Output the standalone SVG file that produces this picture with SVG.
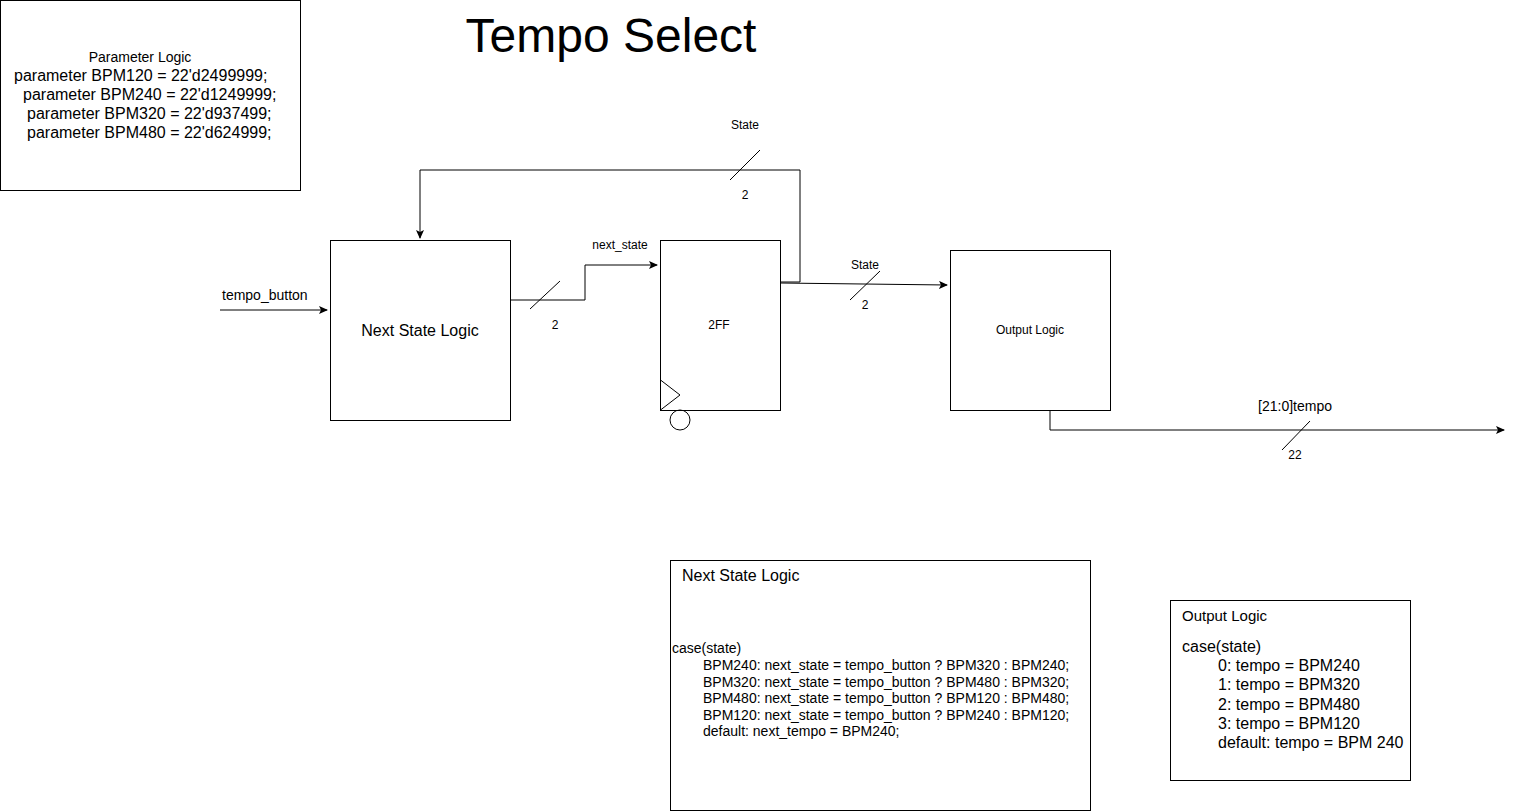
<svg xmlns="http://www.w3.org/2000/svg" width="1515" height="811" viewBox="0 0 1515 811">
<style>
text{font-family:"Liberation Sans",Arial,sans-serif;fill:#000}
.box{fill:#fff;stroke:#000;stroke-width:1}
.w{fill:none;stroke:#000;stroke-width:1}
.c{text-anchor:middle}
</style>
<defs>
<marker id="ah" markerWidth="10" markerHeight="10" refX="8" refY="4" orient="auto" markerUnits="userSpaceOnUse">
<path d="M0,0 L9,4 L0,8 L2,4 Z" fill="#000"/>
</marker>
</defs>
<rect width="1515" height="811" fill="#fff"/>
<text x="611" y="52" class="c" font-size="48">Tempo Select</text>
<g id="param">
<rect class="box" x="0.5" y="0.5" width="300" height="190"/>
<text x="140" y="62" class="c" font-size="14">Parameter Logic</text>
<text x="14" y="81" font-size="16">parameter BPM120 = 22'd2499999;</text>
<text x="23" y="100" font-size="16">parameter BPM240 = 22'd1249999;</text>
<text x="27" y="119" font-size="16">parameter BPM320 = 22'd937499;</text>
<text x="27" y="138" font-size="16">parameter BPM480 = 22'd624999;</text>
</g>
<g id="connectors">
<path class="w" d="M220,310 H327" marker-end="url(#ah)"/>
<text x="222" y="300" font-size="14">tempo_button</text>
<path class="w" d="M510,300 H585 V265 H657" marker-end="url(#ah)"/>
<line class="w" x1="530" y1="309" x2="560" y2="281"/>
<text x="555" y="329" class="c" font-size="12">2</text>
<text x="620" y="249" class="c" font-size="12">next_state</text>
<path class="w" d="M780,282 H800 V170 H420 V238" marker-end="url(#ah)"/>
<line class="w" x1="730" y1="180" x2="760" y2="150"/>
<text x="745" y="129" class="c" font-size="12">State</text>
<text x="745" y="199" class="c" font-size="12">2</text>
<path class="w" d="M780,283 L947,285" marker-end="url(#ah)"/>
<line class="w" x1="850" y1="300" x2="880" y2="271"/>
<text x="865" y="269" class="c" font-size="12">State</text>
<text x="865" y="309" class="c" font-size="12">2</text>
<path class="w" d="M1050,410 V430 H1504" marker-end="url(#ah)"/>
<line class="w" x1="1282" y1="450" x2="1310" y2="421"/>
<text x="1295" y="411" class="c" font-size="14">[21:0]tempo</text>
<text x="1295" y="459" class="c" font-size="12">22</text>
</g>
<g id="next-state-logic">
<rect class="box" x="330.5" y="240.5" width="180" height="180"/>
<text x="420" y="336" class="c" font-size="16">Next State Logic</text>
</g>
<g id="ff">
<rect class="box" x="660.5" y="240.5" width="120" height="170"/>
<text x="719" y="329" class="c" font-size="12">2FF</text>
<path class="w" d="M660.5,380 L680,395 L660.5,410"/>
<circle class="w" cx="680" cy="420" r="10"/>
</g>
<g id="output-logic">
<rect class="box" x="950.5" y="250.5" width="160" height="160"/>
<text x="1030" y="334" class="c" font-size="12">Output Logic</text>
</g>
<g id="nsl-note">
<rect class="box" x="670.5" y="560.5" width="420" height="250"/>
<text x="682" y="581" font-size="16">Next State Logic</text>
<text x="672" y="653" font-size="14">case(state)</text>
<text x="703" y="670" font-size="14">BPM240: next_state = tempo_button ? BPM320 : BPM240;</text>
<text x="703" y="687" font-size="14">BPM320: next_state = tempo_button ? BPM480 : BPM320;</text>
<text x="703" y="703" font-size="14">BPM480: next_state = tempo_button ? BPM120 : BPM480;</text>
<text x="703" y="720" font-size="14">BPM120: next_state = tempo_button ? BPM240 : BPM120;</text>
<text x="703" y="736" font-size="14">default: next_tempo = BPM240;</text>
</g>
<g id="ol-note">
<rect class="box" x="1170.5" y="600.5" width="240" height="180"/>
<text x="1182" y="621" font-size="15">Output Logic</text>
<text x="1182" y="652" font-size="16">case(state)</text>
<text x="1218" y="671" font-size="16">0: tempo = BPM240</text>
<text x="1218" y="690" font-size="16">1: tempo = BPM320</text>
<text x="1218" y="710" font-size="16">2: tempo = BPM480</text>
<text x="1218" y="729" font-size="16">3: tempo = BPM120</text>
<text x="1218" y="748" font-size="16">default: tempo = BPM 240</text>
</g>
</svg>
